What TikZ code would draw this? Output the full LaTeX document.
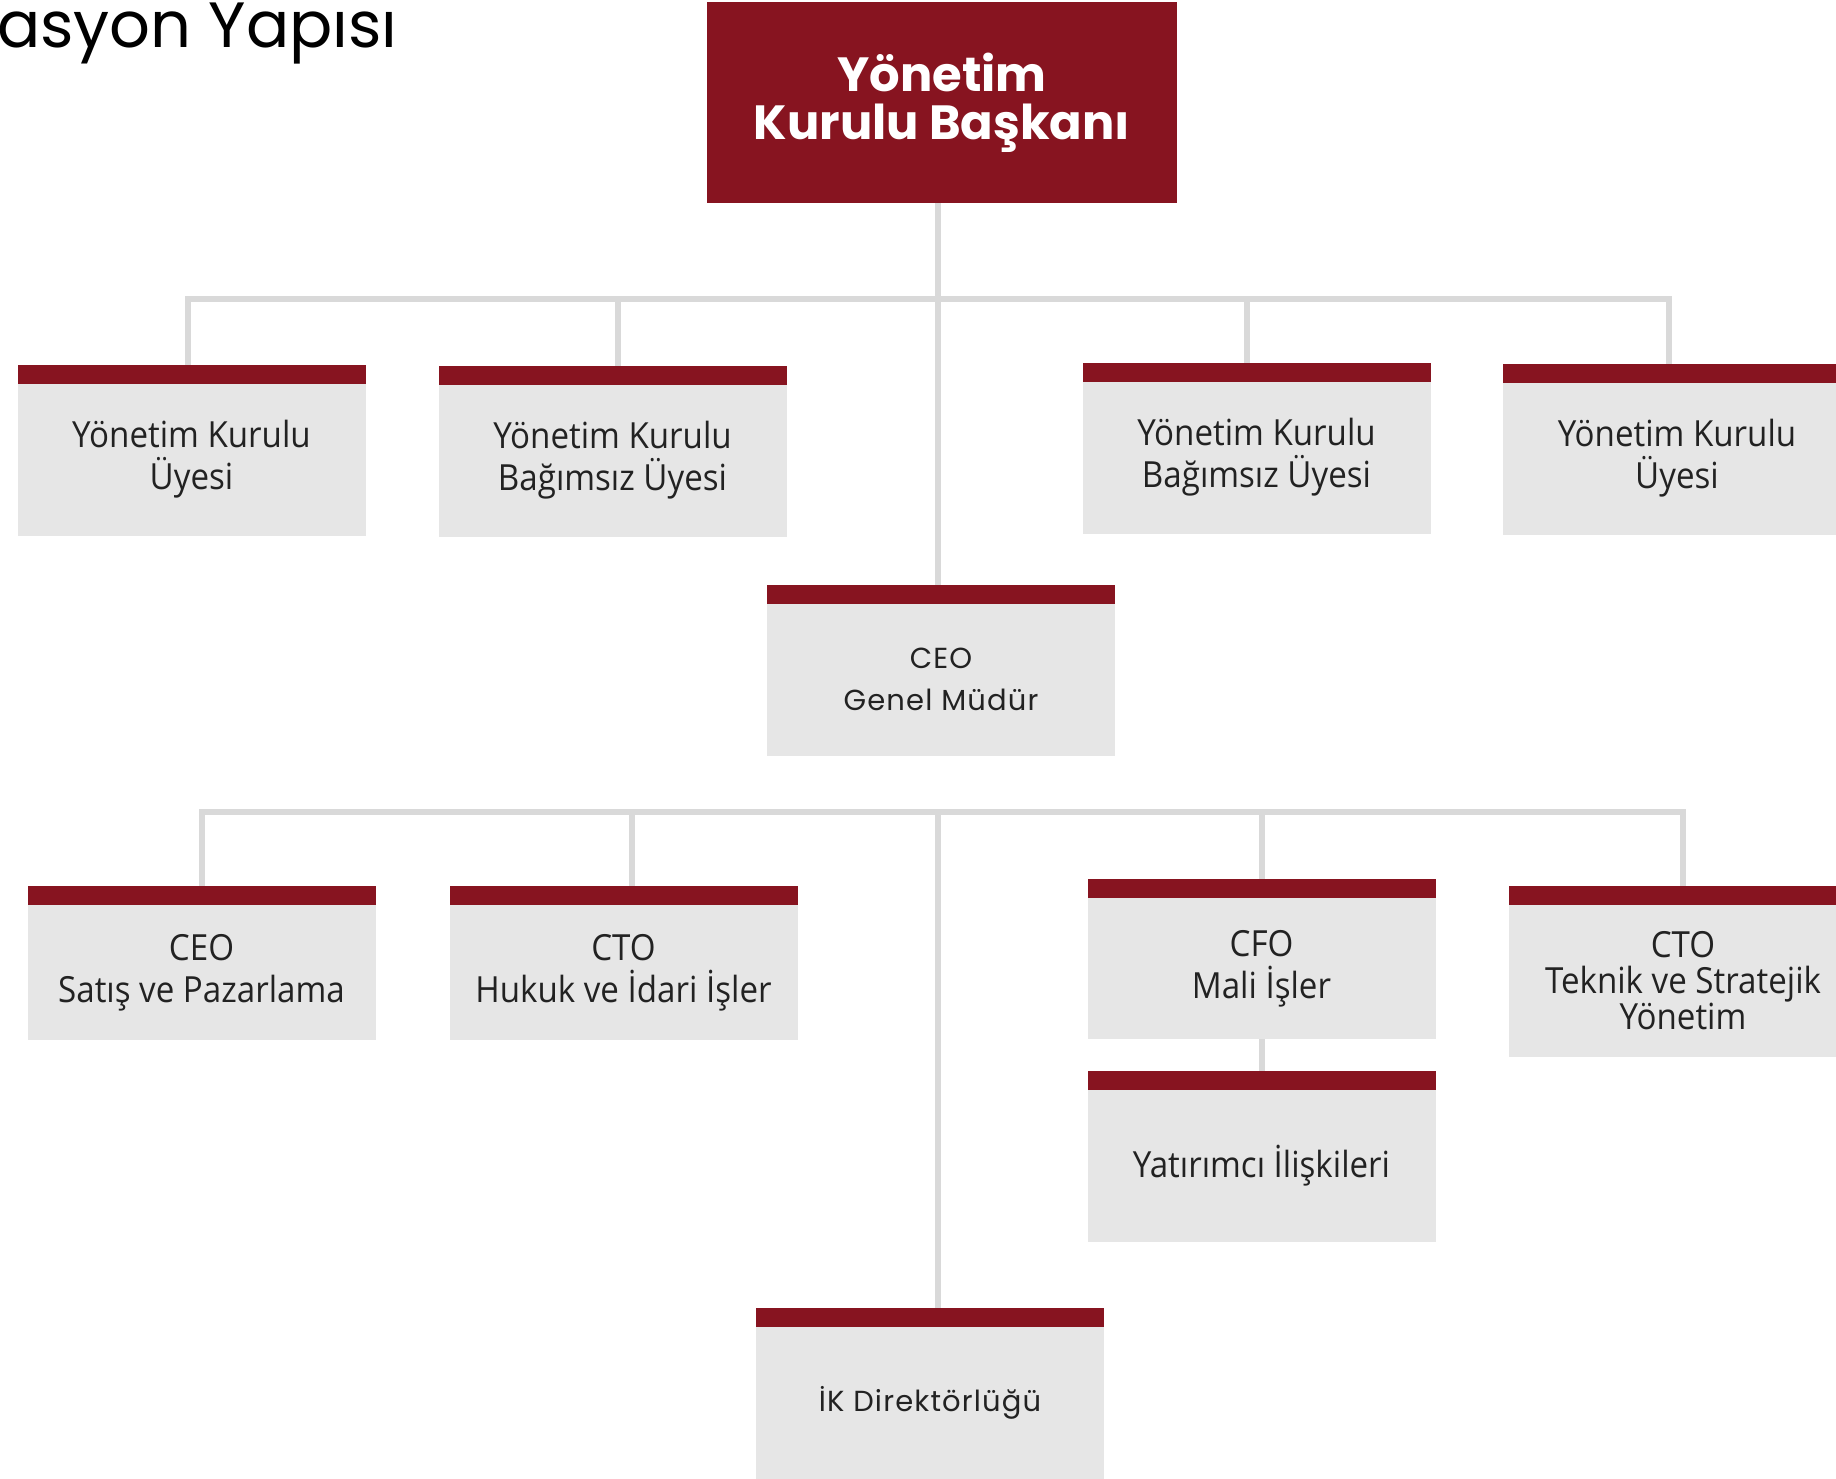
\documentclass[tikz,border=0pt]{standalone}
\usepackage{fontspec}
\setmainfont{Open Sans}[FakeStretch=0.92]
\newfontfamily\geofont{Poppins}[LetterSpace=4]
\newfontfamily\headfont{Poppins}
\usetikzlibrary{backgrounds}
\definecolor{barred}{RGB}{135,20,32}
\definecolor{boxgray}{RGB}{230,230,230}
\definecolor{linkgray}{RGB}{217,217,217}
\definecolor{inkdark}{RGB}{34,34,34}

\begin{document}
\begin{tikzpicture}[x=0.5pt,y=-0.5pt,
  every node/.style={font=\fontsize{18}{21}\selectfont, text=inkdark},
  orgbox/.style={fill=boxgray, minimum width=174pt, minimum height=76pt,
    inner sep=0pt, outer sep=0pt, align=center,
    label={[fill=barred, minimum width=174pt, minimum height=9.5pt,
      inner sep=0pt, outer sep=0pt]north:{}}},
  geobox/.style={orgbox, font=\geofont\fontsize{14.5}{21}\selectfont},
  link/.style={draw=linkgray, line width=3pt}]
  \useasboundingbox (0,0) rectangle (1836,1478);

  \node[anchor=base east, inner sep=0pt, text=black,
    font=\headfont\fontsize{32}{32}\selectfont] (title) at (398,47) {asyon Yapısı};

  % board
  \node[fill=barred, minimum width=235pt, minimum height=100.5pt, inner sep=0pt,
    align=center, text=white, font=\headfont\bfseries\fontsize{24}{24}\selectfont]
    (chair) at (942,102.5) {Yönetim\\Kurulu Başkanı};
  \node[orgbox] (uyeA) at (191.5,459.5) {Yönetim Kurulu\\Üyesi};
  \node[orgbox] (bagB) at (612.5,460.5) {Yönetim Kurulu\\Bağımsız Üyesi};
  \node[orgbox] (bagC) at (1256.5,457.5) {Yönetim Kurulu\\Bağımsız Üyesi};
  \node[orgbox] (uyeD) at (1677,458.5) {Yönetim Kurulu\\Üyesi};
  \node[geobox] (ceo) at (941,679.5) {CEO\\Genel Müdür};

  % management
  \node[orgbox, minimum height=67.5pt] (satis) at (201.5,972.5) {CEO\\Satış ve Pazarlama};
  \node[orgbox, minimum height=67.5pt] (hukuk) at (623.5,972.5) {CTO\\Hukuk ve İdari İşler};
  \node[orgbox, minimum height=70.5pt] (mali) at (1261.5,968.5) {CFO\\Mali İşler};
  \node[orgbox, font=\fontsize{18}{18}\selectfont] (teknik) at (1683,981)
    {CTO\\Teknik ve Stratejik\\Yönetim};
  \node[orgbox] (yatirim) at (1261.5,1165.5) {Yatırımcı İlişkileri};
  \node[geobox] (ik) at (930,1403) {İK Direktörlüğü};

  \begin{scope}[on background layer]
    \coordinate (bus1) at (938,299);
    \coordinate (bus2) at (938,812);
    \draw[link] (chair.south -| bus1) -- (ceo.north -| bus1);
    \foreach \n/\dx in {uyeA/-2,bagB/2.5,bagC/-5,uyeD/-4}
      \draw[link] (bus1) -| ([xshift=\dx pt]\n.north);
    \foreach \n/\dx in {satis/0,hukuk/4,mali/0,teknik/0}
      \draw[link] (bus2) -| ([xshift=\dx pt]\n.north);
    \draw[link] (bus2) -- (bus2 |- ik.north);
    \draw[link] (mali.south) -- (yatirim.north);
  \end{scope}
\end{tikzpicture}
\end{document}
